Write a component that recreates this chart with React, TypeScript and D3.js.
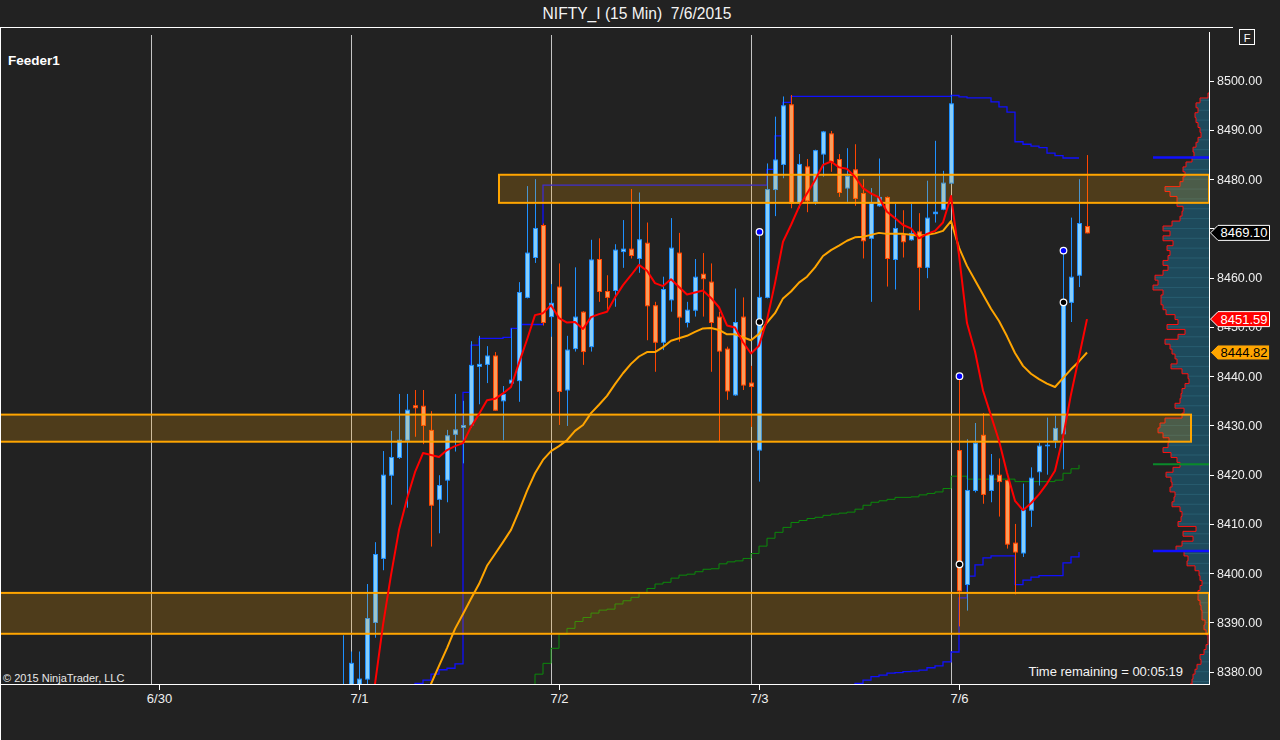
import React from "react";
import * as d3 from "d3";

// ---------- text ----------
const titleText = "NIFTY_I (15 Min)  7/6/2015";
const feederLabel = "Feeder1";
const copyrightText = "© 2015 NinjaTrader, LLC";
const timeRemainingText = "Time remaining = 00:05:19";

// ---------- axes ----------
const dayLabels = ["6/30", "7/1", "7/2", "7/3", "7/6"];
const dayFirstBar = [0, 25, 50, 75, 100];
const priceTicks = [8380, 8390, 8400, 8410, 8420, 8430, 8440, 8450, 8460, 8470, 8480, 8490, 8500];

// ---------- candles (bar index starts at firstBar; 25 bars per session) ----------
const firstBar = 23;
const opens = [
  8368, 8376, 8375, 8378.5, 8390.0, 8403.0, 8419.9, 8423.5, 8427.0, 8434.0,
  8433.9, 8429.0, 8415.0, 8418.9, 8428.2, 8429.6, 8430.1, 8442.0, 8442.4, 8444.1,
  8435.0, 8438.6, 8439.1, 8456.0, 8464.1, 8470.6, 8452.1, 8458.1, 8437.2, 8445.6,
  8453.0, 8446.0, 8463.7, 8457.2, 8457.4, 8465.3, 8465.8, 8463.9, 8467.0, 8454.3,
  8446.9, 8455.5, 8465.0, 8450.9, 8453.4, 8460.7, 8459.1, 8452.0, 8445.5, 8436.2,
  8452.0, 8438.6, 8425.0, 8456.0, 8477.9, 8483.0, 8495.1, 8475.2, 8482.5, 8475.4,
  8485.1, 8489.2, 8484.0, 8478.2, 8481.9, 8477.1, 8468.0, 8474.6, 8476.3, 8463.7,
  8468.7, 8467.7, 8469.3, 8462.1, 8473.0, 8473.9, 8479.2, 8424.9, 8397.7, 8416.8,
  8428.0, 8416.8, 8419.9, 8418.8, 8406.1, 8404.1, 8412.8, 8420.6, 8425.9, 8426.9,
  8428.3, 8455.0, 8460.5, 8470.4,
];
const highs = [
  8387.4, 8384.1, 8384.1, 8397.8, 8406.3, 8424.8, 8428.9, 8436.4, 8436.4, 8437.2,
  8437.2, 8432.9, 8419.9, 8429.1, 8436.4, 8435.0, 8447.1, 8448.2, 8446.1, 8444.9,
  8438.0, 8449.7, 8459.1, 8478.6, 8480.0, 8471.0, 8458.7, 8462.9, 8448.2, 8462.1,
  8453.2, 8467.7, 8468.0, 8460.5, 8466.8, 8471.7, 8478.0, 8477.3, 8471.2, 8455.1,
  8460.2, 8472.1, 8469.1, 8455.1, 8463.8, 8465.0, 8462.9, 8453.1, 8446.0, 8457.8,
  8456.0, 8442.1, 8469.3, 8483.2, 8492.7, 8496.8, 8497.1, 8485.1, 8484.1, 8486.0,
  8489.8, 8489.8, 8485.1, 8486.3, 8487.1, 8480.0, 8478.2, 8484.2, 8476.5, 8475.0,
  8473.7, 8475.0, 8473.1, 8479.7, 8487.8, 8481.7, 8497.0, 8440.0, 8427.2, 8430.5,
  8432.5, 8424.2, 8423.3, 8419.0, 8410.0, 8418.2, 8421.5, 8426.5, 8431.6, 8432.0,
  8465.5, 8472.2, 8480.0, 8484.9,
];
const lows = [
  8362, 8372, 8373, 8377.0, 8386.9, 8400.6, 8413.9, 8423.2, 8413.3, 8427.7,
  8426.2, 8405.4, 8408.1, 8414.4, 8424.7, 8422.3, 8429.5, 8434.3, 8438.6, 8433.0,
  8427.0, 8438.4, 8434.8, 8455.8, 8463.0, 8450.3, 8448.0, 8430.1, 8429.9, 8445.0,
  8442.3, 8445.0, 8455.1, 8453.4, 8454.1, 8462.0, 8463.9, 8461.0, 8447.3, 8440.9,
  8445.3, 8453.1, 8447.0, 8449.9, 8452.1, 8452.1, 8440.9, 8426.7, 8435.2, 8436.0,
  8437.2, 8429.7, 8418.6, 8455.8, 8472.5, 8480.2, 8474.1, 8474.1, 8473.3, 8474.8,
  8480.5, 8481.5, 8476.4, 8475.4, 8474.6, 8463.9, 8455.1, 8474.4, 8458.2, 8457.6,
  8464.1, 8467.5, 8453.4, 8459.9, 8471.2, 8473.7, 8479.0, 8389.2, 8392.4, 8416.4,
  8414.1, 8414.4, 8411.5, 8405.0, 8395.7, 8403.3, 8409.4, 8417.8, 8420.0, 8425.4,
  8421.1, 8451.0, 8458.1, 8469.0,
];
const closes = [
  8376, 8381.7, 8378.5, 8390.8, 8403.8, 8419.9, 8423.5, 8427.0, 8433.1, 8433.6,
  8430.0, 8413.8, 8417.8, 8427.9, 8429.1, 8430.0, 8442.2, 8442.4, 8444.1, 8433.1,
  8436.3, 8439.2, 8457.0, 8465.0, 8470.0, 8450.9, 8454.8, 8436.9, 8445.3, 8452.0,
  8445.0, 8463.6, 8457.2, 8456.0, 8465.6, 8465.8, 8464.5, 8467.7, 8454.3, 8446.9,
  8457.6, 8466.0, 8452.0, 8453.4, 8460.1, 8459.8, 8450.9, 8445.1, 8437.0, 8450.9,
  8438.2, 8437.9, 8456.0, 8477.9, 8483.9, 8494.9, 8475.1, 8483.0, 8475.6, 8485.8,
  8489.6, 8483.6, 8477.3, 8480.6, 8476.1, 8467.5, 8475.1, 8476.3, 8463.9, 8470.0,
  8467.3, 8469.0, 8462.1, 8472.1, 8473.3, 8479.2, 8495.3, 8396.4, 8416.8, 8426.4,
  8416.0, 8419.9, 8418.6, 8405.9, 8404.3, 8412.8, 8419.3, 8425.8, 8426.1, 8429.4,
  8454.8, 8460.1, 8471.0, 8469.1,
];

// ---------- indicators ----------
const redStart = 26;
const redLine = [
  8365, 8377.5, 8389.5, 8399.6, 8408.8, 8415.1, 8420.5, 8424.4, 8424.0, 8423.6,
  8425.0, 8425.8, 8426.4, 8429.7, 8432.3, 8435.1, 8435.4, 8436.5, 8437.8, 8442.7,
  8447.4, 8452.4, 8452.8, 8454.4, 8451.8, 8450.9, 8451.0, 8449.6, 8452.0, 8452.6,
  8453.1, 8456.0, 8458.5, 8460.5, 8462.6, 8461.4, 8458.9, 8458.3, 8459.7, 8458.1,
  8456.6, 8457.0, 8457.4, 8455.9, 8454.0, 8450.3, 8449.9, 8446.9, 8444.6, 8446.2,
  8451.4, 8458.9, 8467.3, 8470.7, 8474.4, 8477.1, 8479.8, 8482.9, 8483.6, 8482.4,
  8482.1, 8480.5, 8478.2, 8477.1, 8476.3, 8473.4, 8472.1, 8470.7, 8470.0, 8468.0,
  8468.9, 8469.5, 8471.2, 8476.6, 8464.6, 8450.8, 8445.0, 8437.1, 8432.0, 8426.9,
  8420.4, 8414.7, 8412.8, 8414.2, 8416.0, 8418.2, 8420.8, 8427.6, 8436.3, 8443.9,
  8451.59,
];
const orangeStart = 33;
const orangeLine = [
  8373, 8377.5, 8381.2, 8384.8, 8388.7, 8391.7, 8394.8, 8397.8, 8401.5, 8403.9,
  8406.3, 8408.8, 8412.6, 8416.7, 8420.3, 8423.0, 8424.8, 8425.8, 8427.0, 8428.9,
  8430.1, 8432.5, 8434.2, 8436.0, 8438.4, 8440.6, 8442.5, 8444.0, 8444.9, 8444.9,
  8445.9, 8447.2, 8447.7, 8448.2, 8449.0, 8449.7, 8449.8, 8449.4, 8448.5, 8448.5,
  8447.9, 8447.3, 8448.6, 8450.9, 8452.8, 8455.8, 8457.2, 8459.0, 8460.2, 8462.1,
  8464.4, 8465.6, 8466.5, 8467.5, 8468.2, 8468.3, 8468.7, 8469.1, 8468.9, 8468.9,
  8468.9, 8468.7, 8468.5, 8468.7, 8469.0, 8469.5, 8471.5, 8466.1, 8462.4, 8459.5,
  8456.6, 8453.7, 8451.2, 8448.1, 8444.7, 8442.1, 8440.5, 8439.4, 8438.5, 8437.8,
  8439.6, 8441.4, 8443.0, 8444.82,
];
const greenStart = 46;
const greenStep = [
  8376, 8379.5, 8381.7, 8384.75, 8387.6, 8388.8, 8390.2, 8391.0, 8391.9, 8392.5,
  8392.7, 8393.75, 8394.4, 8395.1, 8395.9, 8396.9, 8397.8, 8398.15, 8399.0, 8399.6,
  8399.8, 8400.3, 8400.8, 8400.9, 8401.9, 8402.3, 8402.5, 8403.0, 8404.0, 8405.5,
  8407.1, 8408.3, 8409.3, 8410.3, 8410.7, 8411.1, 8411.35, 8411.75, 8412.0, 8412.2,
  8412.4, 8413.0, 8413.8, 8414.4, 8414.7, 8415.0, 8415.4, 8415.4, 8415.5, 8415.9,
  8416.2, 8416.5, 8417.2, 8419.7, 8419.7, 8419.1, 8419.1, 8419.1, 8419.1, 8419.1,
  8419.1, 8418.6, 8418.6, 8418.6, 8418.6, 8418.6, 8418.9, 8420.3, 8421.2, 8422.0,
];
const blueUpperStart = 31;
const blueUpperStep = [
  8376, 8377.6, 8378.3, 8379.5, 8380.4, 8380.7, 8381.6, 8436.7, 8446.3, 8447.7,
  8447.7, 8447.7, 8447.9, 8449.7, 8450.5, 8450.5, 8450.5, 8478.8, 8478.8, 8478.8,
  8478.8, 8478.8, 8478.8, 8478.8, 8478.8, 8478.8, 8478.8, 8478.8, 8478.8, 8478.8,
  8478.8, 8478.8, 8478.8, 8478.8, 8478.8, 8478.8, 8478.8, 8478.8, 8478.8, 8478.8,
  8478.8, 8478.8, 8478.8, 8478.8, 8478.8, 8482.0, 8488.8, 8495.6, 8496.8, 8496.8,
  8496.8, 8496.8, 8496.8, 8496.8, 8496.8, 8496.8, 8496.8, 8496.8, 8496.8, 8496.8,
  8496.8, 8496.8, 8496.8, 8496.8, 8496.8, 8496.8, 8496.8, 8496.8, 8497.0, 8496.7,
  8496.5, 8496.5, 8496.5, 8495.7, 8494.7, 8493.6, 8487.6, 8487.1, 8486.7, 8486.4,
  8485.3, 8484.8, 8484.3, 8484.3, 8484.3,
];
const blueLowerStart = 86;
const blueLowerStep = [
  8376, 8377.6, 8378.3, 8379.0, 8379.3, 8379.7, 8379.8, 8380.0, 8380.1, 8380.3,
  8380.8, 8381.2, 8382.0, 8384.0, 8395.0, 8399.4, 8401.7, 8403.1, 8403.5, 8403.5,
  8403.5, 8397.7, 8398.6, 8399.2, 8399.5, 8399.5, 8399.5, 8402.1, 8403.3, 8404.3,
];
const blueDotBars = [75, 100, 113];
const blueDotPrices = [8469.3, 8440.0, 8465.5];
const blackDotBars = [75, 100, 113];
const blackDotPrices = [8451.0, 8401.8, 8455.0];

// ---------- zones ----------
const zoneTops = [8480.9, 8432.2, 8396.0];
const zoneBottoms = [8475.2, 8426.7, 8387.7];
const zoneStartBars = [42.5, -21, -21];
const zoneEndBars = [131.25, 129, 131.25];

// ---------- volume profile (1-point rows, from profileTopPrice downward) ----------
const profileTopPrice = 8497;
const profileVolume = [
  1, 9, 13, 11, 14, 13, 11, 9, 8, 11,
  13, 16, 15, 17, 23, 26, 24, 26, 29, 44,
  39, 32, 32, 26, 27, 29, 37, 46, 39, 46,
  36, 42, 39, 41, 46, 41, 46, 54, 51, 56,
  46, 48, 48, 46, 43, 34, 31, 42, 24, 31,
  44, 39, 37, 34, 32, 38, 27, 21, 20, 24,
  27, 28, 29, 34, 25, 27, 44, 49, 51, 46,
  40, 41, 46, 38, 32, 29, 36, 43, 38, 37,
  39, 34, 35, 37, 29, 27, 28, 31, 13, 26,
  16, 27, 33, 25, 21, 22, 14, 10, 9, 7,
  9, 11, 11, 9, 8, 7, 7, 4, 5, 3,
  1, 1, 3, 5, 9, 8, 12, 14, 16, 17,
  19,
];
const markerGreenPrice = 8422.1;
const markerBluePrices = [8484.4, 8404.5];

// ---------- last-value labels ----------
const lastPrice = 8469.1;
const lastRed = 8451.59;
const lastOrange = 8444.82;
const tagValues = [lastPrice, lastRed, lastOrange];

// ---------- layout ----------
const W = 1280;
const H = 740;
const plotLeft = 1;
const plotTop = 28;
const plotRight = 1209;
const plotBottom = 684;
const FONT = "'Liberation Sans', Arial, Helvetica, sans-serif";

const x = d3.scaleLinear().domain([0, 1]).range([159, 167]);
const y = d3.scaleLinear().domain([8380, 8500]).range([671.7, 80.7]);
const volX = d3
  .scaleLinear()
  .domain([0, d3.max(profileVolume) as number])
  .range([0, 56]);

type P = [number, number];
const series = (start: number, vals: number[]): P[] => vals.map((v, k) => [start + k, v]);

const lineGen = d3
  .line<P>()
  .x((d) => x(d[0]))
  .y((d) => y(d[1]))
  .curve(d3.curveLinear);
const stepGen = d3
  .line<P>()
  .x((d) => x(d[0]))
  .y((d) => y(d[1]))
  .curve(d3.curveStepAfter);

function profilePaths() {
  let fill = `M${plotRight},${y(profileTopPrice + 0.5)}`;
  let edge = "";
  profileVolume.forEach((v, k) => {
    const p = profileTopPrice - k;
    const t = y(p + 0.5);
    const b = y(p - 0.5);
    const xl = plotRight - volX(v);
    fill += `L${xl},${t}L${xl},${b}`;
    edge += `${k === 0 ? "M" + plotRight + "," + t + "L" : "L"}${xl},${t}L${xl},${b}`;
  });
  const lastB = y(profileTopPrice - profileVolume.length + 0.5);
  fill += `L${plotRight},${lastB}Z`;
  return { fill, edge };
}

const TAG_H = 7.5;
function tagPath(v: number) {
  const cy = y(v);
  return `M1210.5,${cy} L1218,${cy - TAG_H} L1269.5,${cy - TAG_H} L1269.5,${cy + TAG_H} L1218,${cy + TAG_H} Z`;
}

function PriceTag({ value, bg, fg, border }: { value: number; bg: string; fg: string; border: string }) {
  const cy = y(value);
  return (
    <g>
      <path d={tagPath(value)} fill={bg} stroke={border} strokeWidth={1} />
      <text x={1244} y={cy + 4.6} fill={fg} fontSize={13} textAnchor="middle" fontFamily={FONT}>
        {value.toFixed(2)}
      </text>
    </g>
  );
}

export default function App() {
  const prof = profilePaths();
  const candles = opens.map((o, k) => {
    const i = firstBar + k;
    const h = highs[k];
    const l = lows[k];
    const c = closes[k];
    const up = c >= o;
    const cx = Math.round(x(i));
    const stroke = up ? "#1E90FF" : "#FF4500";
    const fill = up ? "#87CEFA" : "#F79D5C";
    const top = y(Math.max(o, c));
    const bot = y(Math.min(o, c));
    const bh = bot - top;
    return (
      <g key={i}>
        <line x1={cx + 0.5} x2={cx + 0.5} y1={y(h)} y2={y(l)} stroke={stroke} strokeWidth={1} />
        {bh < 1.2 ? (
          <line x1={cx - 2} x2={cx + 3} y1={Math.round(top) + 0.5} y2={Math.round(top) + 0.5} stroke={stroke} strokeWidth={1.6} />
        ) : (
          <rect x={cx - 1.5} y={top} width={4} height={bh} fill={fill} stroke={stroke} strokeWidth={1} />
        )}
      </g>
    );
  });

  const evenLevels = d3.range(profileTopPrice - 1, profileTopPrice - profileVolume.length, -2);
  // tick labels fully hidden by a value tag are not drawn (as in the source chart)
  const visibleTicks = priceTicks.filter((v) => !tagValues.some((t) => Math.abs(y(v) - y(t)) < 6));

  return (
    <svg
      width={W}
      height={H}
      viewBox={`0 0 ${W} ${H}`}
      style={{ position: "fixed", left: 0, top: 0, display: "block", background: "#222222" }}
    >
      <defs>
        <clipPath id="plotClip">
          <rect x={plotLeft} y={plotTop} width={plotRight - plotLeft} height={plotBottom - plotTop} />
        </clipPath>
        <mask id="tagMask" maskUnits="userSpaceOnUse" x={0} y={0} width={W} height={H}>
          <rect x={0} y={0} width={W} height={H} fill="#FFFFFF" />
          {tagValues.map((v) => (
            <path key={"m" + v} d={tagPath(v)} fill="#000000" stroke="#000000" strokeWidth={1} />
          ))}
        </mask>
      </defs>
      <rect x={0} y={0} width={W} height={H} fill="#222222" />

      {/* day separators */}
      {dayFirstBar.map((b) => (
        <line
          key={"g" + b}
          x1={x(b - 1) + 0.5}
          x2={x(b - 1) + 0.5}
          y1={35}
          y2={plotBottom}
          stroke="#C4C4C4"
          strokeWidth={1}
        />
      ))}

      <g clipPath="url(#plotClip)">
        {/* volume profile */}
        <path d={prof.fill} fill="#1E4A5C" />
        {evenLevels.map((p) => {
          const k = profileTopPrice - p;
          const v = profileVolume[k];
          return (
            <line
              key={"pl" + p}
              x1={plotRight - volX(v)}
              x2={plotRight}
              y1={y(p)}
              y2={y(p)}
              stroke="#285C6F"
              strokeWidth={1}
            />
          );
        })}
        <path d={prof.edge} fill="none" stroke="#FF1010" strokeWidth={1} />

        {/* step indicators */}
        <path d={stepGen(series(greenStart, greenStep)) || ""} fill="none" stroke="#0A8A0A" strokeWidth={1} />
        <path d={stepGen(series(blueUpperStart, blueUpperStep)) || ""} fill="none" stroke="#1010FF" strokeWidth={1.3} />
        <path d={stepGen(series(blueLowerStart, blueLowerStep)) || ""} fill="none" stroke="#1010FF" strokeWidth={1.3} />

        {/* candles */}
        {candles}

        {/* zones */}
        {zoneTops.map((t, k) => (
          <rect
            key={"z" + k}
            x={x(zoneStartBars[k])}
            y={y(t)}
            width={x(zoneEndBars[k]) - x(zoneStartBars[k])}
            height={y(zoneBottoms[k]) - y(t)}
            fill="#FFA500"
            fillOpacity={0.2}
            stroke="#FFA500"
            strokeWidth={2}
          />
        ))}

        {/* moving averages */}
        <path d={lineGen(series(orangeStart, orangeLine)) || ""} fill="none" stroke="#FFA500" strokeWidth={2} strokeLinejoin="round" />
        <path d={lineGen(series(redStart, redLine)) || ""} fill="none" stroke="#FF0000" strokeWidth={2} strokeLinejoin="round" />

        {/* profile markers */}
        <line x1={1153} x2={plotRight} y1={y(markerGreenPrice)} y2={y(markerGreenPrice)} stroke="#0A8A2A" strokeWidth={2} />
        {markerBluePrices.map((p) => (
          <line key={"mb" + p} x1={1153} x2={plotRight} y1={y(p)} y2={y(p)} stroke="#1010FF" strokeWidth={2.5} />
        ))}

        {/* dots */}
        {blueDotBars.map((b, k) => (
          <circle key={"bd" + k} cx={x(b) + 0.5} cy={y(blueDotPrices[k])} r={3.3} fill="#0000FF" stroke="#FFFFFF" strokeWidth={1.2} />
        ))}
        {blackDotBars.map((b, k) => (
          <circle key={"kd" + k} cx={x(b) + 0.5} cy={y(blackDotPrices[k])} r={3.3} fill="#000000" stroke="#FFFFFF" strokeWidth={1.2} />
        ))}
      </g>

      {/* frame */}
      <line x1={0} x2={1233} y1={27.5} y2={27.5} stroke="#FFFFFF" strokeWidth={1} />
      <line x1={0.5} x2={0.5} y1={27} y2={H} stroke="#FFFFFF" strokeWidth={1} />
      <line x1={plotRight + 0.5} x2={plotRight + 0.5} y1={32} y2={plotBottom + 0.5} stroke="#FFFFFF" strokeWidth={1} />
      <line x1={0} x2={plotRight + 1} y1={plotBottom + 0.5} y2={plotBottom + 0.5} stroke="#FFFFFF" strokeWidth={1} />

      {/* price axis */}
      <g mask="url(#tagMask)">
        {priceTicks.map((v) => (
          <line key={"tl" + v} x1={plotRight} x2={plotRight + 5} y1={Math.round(y(v)) + 0.5} y2={Math.round(y(v)) + 0.5} stroke="#FFFFFF" />
        ))}
        {visibleTicks.map((v) => (
          <text key={"tt" + v} x={1217} y={y(v) + 4.5} fill="#F0F0F0" fontSize={12.5} fontFamily={FONT}>
            {v.toFixed(2)}
          </text>
        ))}
      </g>

      {/* time axis */}
      {dayFirstBar.map((b, k) => (
        <g key={"d" + b}>
          <line x1={x(b) + 0.5} x2={x(b) + 0.5} y1={plotBottom} y2={plotBottom + 6} stroke="#FFFFFF" />
          <text x={x(b) + 0.5} y={703} fill="#F0F0F0" fontSize={13} textAnchor="middle" fontFamily={FONT}>
            {dayLabels[k]}
          </text>
        </g>
      ))}

      {/* last value tags */}
      <PriceTag value={lastPrice} bg="#000000" fg="#FFFFFF" border="#FFFFFF" />
      <PriceTag value={lastRed} bg="#FF0000" fg="#FFFFFF" border="#FFFFFF" />
      <PriceTag value={lastOrange} bg="#FFA500" fg="#000000" border="#2A2A2A" />

      {/* texts */}
      <text x={637} y={19} fill="#F4F4F4" fontSize={15.6} textAnchor="middle" fontFamily={FONT} style={{ whiteSpace: "pre" }}>
        {titleText}
      </text>
      <text x={8} y={65} fill="#FFFFFF" fontSize={13.5} fontWeight="bold" fontFamily={FONT}>
        {feederLabel}
      </text>
      <text x={3} y={682} fill="#E8E8E8" fontSize={11} fontFamily={FONT}>
        {copyrightText}
      </text>
      <text x={1183} y={676} fill="#F4F4F4" fontSize={13} textAnchor="end" fontFamily={FONT}>
        {timeRemainingText}
      </text>

      {/* F button */}
      <rect x={1239.5} y={29.5} width={15} height={15} fill="none" stroke="#FFFFFF" strokeWidth={1} />
      <text x={1247} y={41.5} fill="#FFFFFF" fontSize={11} textAnchor="middle" fontFamily={FONT}>
        F
      </text>
    </svg>
  );
}
